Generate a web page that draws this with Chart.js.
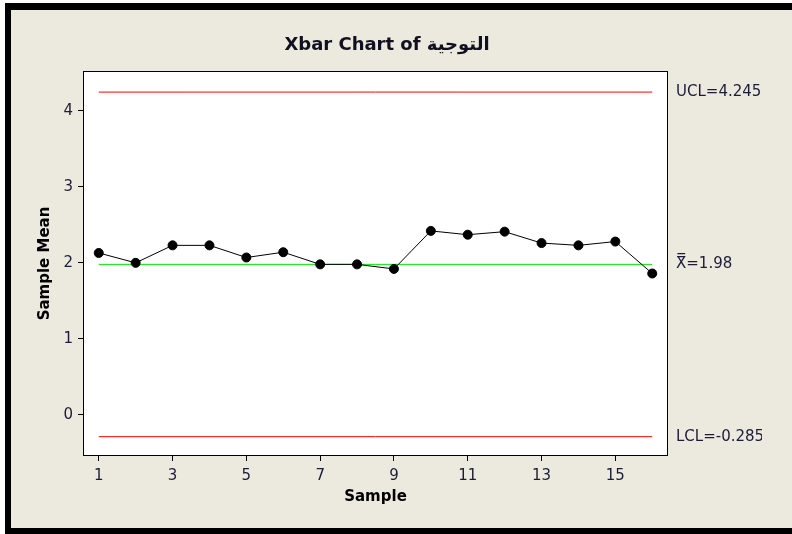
<!DOCTYPE html>
<html>
<head>
<meta charset="utf-8">
<title>Xbar Chart</title>
<script src="https://cdn.jsdelivr.net/npm/chart.js@4.4.1/dist/chart.umd.min.js"></script>
<style>
  html, body { margin: 0; padding: 0; background: #fff; }
  canvas { display: block; }
</style>
</head>
<body>
<canvas id="xbarChart" width="792" height="534"></canvas>
<script>
// Sample means
const samples = [1, 2, 3, 4, 5, 6, 7, 8, 9, 10, 11, 12, 13, 14, 15, 16];
const means = [2.13, 2.00, 2.23, 2.23, 2.07, 2.14, 1.98, 1.98, 1.92, 2.42, 2.37, 2.41, 2.26, 2.23, 2.28, 1.86];

// Control limits
const ucl = 4.245;
const centre = 1.98;
const lcl = -0.285;
const limitLabels = ['UCL=4.245', 'X\u033F=1.98', 'LCL=-0.285'];

// Tick labels
const xTicks = [1, 3, 5, 7, 9, 11, 13, 15];
const yTicks = [0, 1, 2, 3, 4];

const FONT = "'DejaVu Sans', 'Noto Sans', sans-serif";
const TEXT = '#1c1c38';

document.addEventListener('DOMContentLoaded', function() {
  // Minitab style panel: black frame, beige background, white plot area
  const panelBackground = {
    id: 'panelBackground',
    beforeDraw(chart) {
      const ctx = chart.ctx;
      const area = chart.chartArea;
      ctx.save();
      ctx.fillStyle = '#ffffff';
      ctx.fillRect(0, 0, chart.width, chart.height);
      ctx.fillStyle = '#000000';
      ctx.fillRect(5, 3, chart.width - 5, chart.height - 3);
      ctx.fillStyle = '#ece9df';
      ctx.fillRect(11, 10, chart.width - 11, chart.height - 16);
      ctx.fillStyle = '#ffffff';
      ctx.fillRect(area.left, area.top, area.right - area.left, area.bottom - area.top);
      ctx.strokeStyle = '#000000';
      ctx.lineWidth = 1;
      ctx.strokeRect(area.left - 0.5, area.top - 0.5, area.right - area.left + 1, area.bottom - area.top + 1);
      ctx.restore();
    }
  };

  function limitLine(value, color) {
    return {
      data: [{ x: samples[0], y: value }, { x: samples[samples.length - 1], y: value }],
      borderColor: color,
      borderWidth: 1,
      pointRadius: 0,
      fill: false
    };
  }

  const ctx = document.getElementById('xbarChart').getContext('2d');
  new Chart(ctx, {
    type: 'line',
    data: {
      datasets: [
        {
          label: 'Sample Mean',
          data: samples.map((s, i) => ({ x: s, y: means[i] })),
          borderColor: '#000000',
          borderWidth: 1,
          backgroundColor: '#000000',
          pointBackgroundColor: '#000000',
          pointBorderColor: '#000000',
          pointRadius: 4.5,
          tension: 0,
          fill: false
        },
        limitLine(centre, '#00e600'),
        limitLine(ucl, '#ff0000'),
        limitLine(lcl, '#ff0000')
      ]
    },
    options: {
      responsive: false,
      animation: false,
      devicePixelRatio: 1,
      layout: {
        padding: { left: 12, right: 30, top: 0, bottom: 0 }
      },
      scales: {
        x: {
          type: 'linear',
          min: 0.6,
          max: 16.4,
          afterBuildTicks: function(scale) {
            scale.ticks = xTicks.map(v => ({ value: v }));
          },
          afterFit: function(scale) {
            scale.height = 79;
          },
          ticks: {
            autoSkip: false,
            maxRotation: 0,
            padding: 6,
            color: TEXT,
            font: { family: FONT, size: 15 }
          },
          grid: {
            display: true,
            drawOnChartArea: false,
            drawTicks: true,
            tickLength: 6,
            color: '#000000'
          },
          border: { display: false },
          title: {
            display: true,
            text: 'Sample',
            color: '#000000',
            font: { family: FONT, size: 15, weight: 'bold' },
            padding: { top: 0, bottom: 28 }
          }
        },
        y: {
          position: 'left',
          min: -0.526,
          max: 4.509,
          afterBuildTicks: function(scale) {
            scale.ticks = yTicks.map(v => ({ value: v }));
          },
          afterFit: function(scale) {
            scale.width = 72;
          },
          ticks: {
            autoSkip: false,
            padding: 5,
            color: TEXT,
            font: { family: FONT, size: 15 }
          },
          grid: {
            display: true,
            drawOnChartArea: false,
            drawTicks: true,
            tickLength: 6,
            color: '#000000'
          },
          border: { display: false },
          title: {
            display: true,
            text: 'Sample Mean',
            color: '#000000',
            font: { family: FONT, size: 15, weight: 'bold' },
            padding: { top: 24, bottom: 0 }
          }
        },
        limits: {
          position: 'right',
          min: -0.526,
          max: 4.509,
          afterBuildTicks: function(scale) {
            scale.ticks = [ucl, centre, lcl].map(v => ({ value: v }));
          },
          afterFit: function(scale) {
            scale.width = 95;
          },
          ticks: {
            autoSkip: false,
            padding: 9,
            color: TEXT,
            font: { family: FONT, size: 15 },
            callback: function(value) {
              if (value === ucl) return limitLabels[0];
              if (value === centre) return limitLabels[1];
              return limitLabels[2];
            }
          },
          grid: { display: false, drawTicks: false },
          border: { display: false }
        }
      },
      plugins: {
        legend: { display: false },
        tooltip: { enabled: false },
        title: {
          display: true,
          text: 'Xbar Chart of التوجية',
          color: '#101020',
          font: { family: FONT, size: 18, weight: 'bold' },
          padding: { top: 35, bottom: 15.4 }
        }
      }
    },
    plugins: [panelBackground]
  });
});
</script>
</body>
</html>
